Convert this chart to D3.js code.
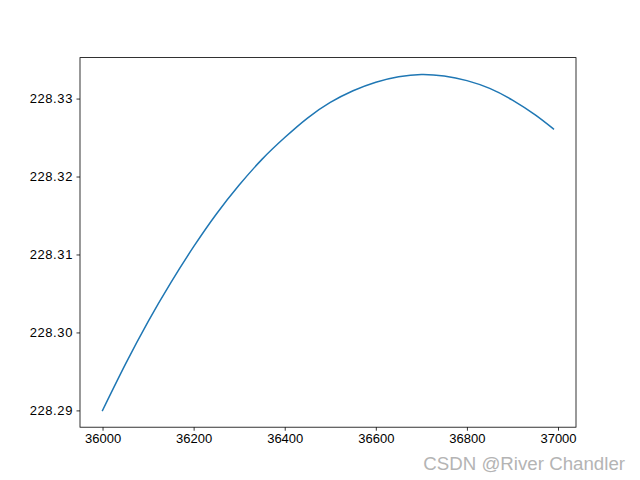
<!DOCTYPE html>
<html>
<head>
<meta charset="utf-8">
<script src="https://cdn.jsdelivr.net/npm/d3@7"></script>
<style>
  html, body { margin: 0; padding: 0; background: #fff; }
  svg { display: block; }
</style>
</head>
<body>
<script>
// Data
const xValues = [36000, 36050, 36100, 36150, 36200, 36250, 36300, 36350, 36400, 36450,
                 36500, 36550, 36600, 36650, 36700, 36750, 36800, 36850, 36900, 36950, 36990];
const yValues = [228.2900, 228.2959, 228.3014, 228.3064, 228.3110, 228.3152, 228.3189, 228.3222, 228.3250, 228.3275,
                 228.3295, 228.3310, 228.3321, 228.3328, 228.3331, 228.3329, 228.3323, 228.3313, 228.3298, 228.3279, 228.3261];
const xTicks = [36000, 36200, 36400, 36600, 36800, 37000];
const yTicks = [228.29, 228.30, 228.31, 228.32, 228.33];
const watermark = "CSDN @River Chandler";

const W = 640, H = 480;
const mLeft = 80, mRight = 576, mTop = 57.6, mBottom = 427.2;

const svg = d3.select("body").append("svg").attr("width", W).attr("height", H);

function padded(ext) {
  const d = (ext[1] - ext[0]) * 0.05;
  return [ext[0] - d, ext[1] + d];
}
const x = d3.scaleLinear().domain(padded(d3.extent(xValues))).range([mLeft, mRight]);
const y = d3.scaleLinear().domain(padded(d3.extent(yValues))).range([mBottom, mTop]);

const data = xValues.map((v, i) => [v, yValues[i]]);

svg.append("path")
  .datum(data)
  .attr("fill", "none")
  .attr("stroke", "#1f77b4")
  .attr("stroke-width", 1.5)
  .attr("stroke-linecap", "square")
  .attr("d", d3.line().x(d => x(d[0])).y(d => y(d[1])).curve(d3.curveNatural));

const font = "'Liberation Sans', Arial, sans-serif";

const xAxis = svg.append("g").attr("transform", `translate(0,${mBottom})`)
  .call(d3.axisBottom(x).tickValues(xTicks).tickSize(3.5).tickPadding(3.5).tickFormat(d3.format("d")));
const yAxis = svg.append("g").attr("transform", `translate(${mLeft},0)`)
  .call(d3.axisLeft(y).tickValues(yTicks).tickSize(3.5).tickPadding(3.5).tickFormat(d3.format(".2f")));

[xAxis, yAxis].forEach(g => {
  g.select(".domain").remove();
  g.selectAll(".tick line").attr("stroke", "#000").attr("stroke-width", 0.8);
  g.selectAll(".tick text").attr("fill", "#000").style("font-family", font).style("font-size", "13px");
});
yAxis.selectAll(".tick text").attr("letter-spacing", "0.6px");

// spines
svg.append("rect")
  .attr("x", mLeft).attr("y", mTop)
  .attr("width", mRight - mLeft).attr("height", mBottom - mTop)
  .attr("fill", "none").attr("stroke", "#000").attr("stroke-width", 0.8);

// watermark
svg.append("text")
  .attr("x", 625).attr("y", 470)
  .attr("text-anchor", "end")
  .style("font-family", font)
  .style("font-size", "18.7px")
  .attr("fill", "#b4b4b4")
  .text(watermark);
</script>
</body>
</html>
